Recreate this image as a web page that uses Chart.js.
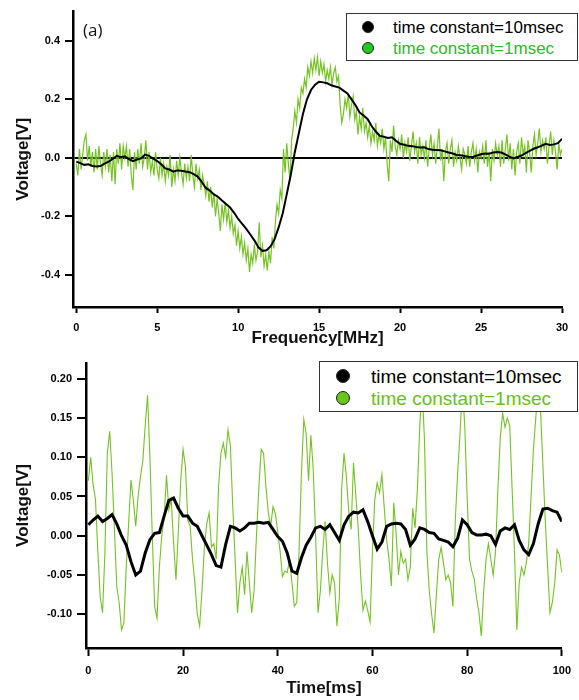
<!DOCTYPE html>
<html>
<head>
<meta charset="utf-8">
<script src="https://cdn.jsdelivr.net/npm/chart.js@4.4.1/dist/chart.umd.min.js"></script>
<style>
  html, body { margin: 0; padding: 0; background: #fff; }
  #wrap { position: relative; width: 579px; height: 700px; overflow: hidden; }
  canvas { position: absolute; left: 0; }
  .legend { position: absolute; background: #fff; border: 1px solid #333; box-sizing: border-box; }
  .legend .dot { position: absolute; border-radius: 50%; border: 1px solid #222; box-sizing: border-box; }
  .legend .lbl { position: absolute; white-space: nowrap; font-family: 'Liberation Sans', Arial, sans-serif; transform: translateY(-50%); line-height: 1; }
  #tagA { position: absolute; left: 83px; top: 18px; font: 17px 'Open Sans', sans-serif; color: #111; }
</style>
</head>
<body>
<div id="wrap">
  <canvas id="topChart" width="579" height="350" style="top:0"></canvas>
  <canvas id="botChart" width="579" height="350" style="top:350px"></canvas>
  <div id="tagA">(a)</div>
  <div id="legTop" class="legend" style="left:346px;top:13px;width:232px;height:48px"></div>
  <div id="legBot" class="legend" style="left:319px;top:361px;width:259px;height:51px"></div>
</div>
<script>
/* global Chart */

const seriesNames = ['time constant=10msec', 'time constant=1msec'];

// ---- top panel: voltage vs frequency (MHz) ----
const topXTicks = [0, 5, 10, 15, 20, 25, 30];
const topYTicks = [-0.4, -0.2, 0, 0.2, 0.4];

// 10 msec, sampled every 0.25 MHz from 0 to 30
const topBlackStep = 0.25;
const topBlack = [
  -0.013, -0.018, -0.024, -0.022, -0.028, -0.030, -0.028, -0.020,
  -0.013, -0.004, 0.007, 0.002, 0.005, -0.004, -0.011, -0.006,
  -0.002, 0.011, 0.007, -0.003, -0.011, -0.022, -0.036, -0.040,
  -0.047, -0.043, -0.044, -0.047, -0.049, -0.056, -0.064, -0.082,
  -0.103, -0.112, -0.125, -0.133, -0.146, -0.158, -0.170, -0.188,
  -0.209, -0.226, -0.243, -0.262, -0.282, -0.306, -0.318, -0.316,
  -0.303, -0.278, -0.238, -0.190, -0.125, -0.058, 0.020, 0.085,
  0.150, 0.200, 0.232, 0.250, 0.260, 0.258, 0.255, 0.248,
  0.244, 0.240, 0.230, 0.220, 0.200, 0.180, 0.155, 0.145,
  0.132, 0.108, 0.090, 0.075, 0.072, 0.068, 0.070, 0.058,
  0.048, 0.045, 0.041, 0.040, 0.037, 0.035, 0.036, 0.030,
  0.028, 0.027, 0.026, 0.022, 0.018, 0.015, 0.010, 0.009,
  0.006, 0.004, 0.003, 0.008, 0.012, 0.015, 0.014, 0.018,
  0.020, 0.018, 0.012, 0.004, -0.002, 0.003, 0.008, 0.016,
  0.024, 0.031, 0.036, 0.042, 0.048, 0.044, 0.046, 0.050,
  0.065
];

// 1 msec, sampled every 0.1 MHz from 0 to 30
const topGreenStep = 0.1;
const topGreen = [
  -0.02, -0.06, 0.03, -0.04, 0.01, 0.06, 0.08, -0.01, 0.04, -0.03,
  0.02, -0.05, 0.03, -0.04, 0.04, -0.02, -0.06, 0.02, -0.03, 0.03,
  -0.05, 0.01, -0.08, 0.02, -0.09, 0.03, -0.02, 0.05, -0.04, 0.04,
  0.00, 0.04, -0.03, 0.03, -0.06, -0.11, 0.02, -0.04, 0.03, -0.02,
  0.05, -0.03, 0.00, 0.06, -0.04, 0.02, -0.05, -0.01, -0.06, 0.02,
  -0.04, -0.07, 0.00, -0.06, -0.02, -0.08, -0.03, -0.06, 0.01, -0.10,
  -0.04, -0.08, -0.01, -0.06, 0.00, -0.05, -0.09, -0.02, -0.07, -0.03,
  -0.08, 0.01, -0.06, -0.10, -0.02, -0.07, -0.04, -0.11, -0.06, -0.09,
  -0.13, -0.08, -0.15, -0.10, -0.17, -0.12, -0.20, -0.14, -0.19, -0.25,
  -0.16, -0.21, -0.15, -0.22, -0.18, -0.24, -0.20, -0.26, -0.23, -0.30,
  -0.25, -0.31, -0.27, -0.33, -0.29, -0.35, -0.31, -0.39, -0.33, -0.36,
  -0.30, -0.35, -0.32, -0.22, -0.34, -0.30, -0.37, -0.33, -0.385, -0.32,
  -0.36, -0.27, -0.31, -0.22, -0.16, -0.19, -0.11, -0.14, 0.03, -0.05,
  0.05, -0.02, -0.08, 0.06, 0.10, 0.16, 0.12, 0.20, 0.17, 0.24,
  0.22, 0.27, 0.24, 0.31, 0.28, 0.33, 0.29, 0.34, 0.30, 0.345,
  0.28, 0.33, 0.29, 0.32, 0.26, 0.30, 0.27, 0.31, 0.25, 0.29,
  0.31, 0.26, 0.28, 0.18, 0.12, 0.15, 0.20, 0.17, 0.22, 0.14,
  0.18, 0.21, 0.13, 0.16, 0.08, 0.14, 0.10, 0.17, 0.09, 0.12,
  0.07, 0.11, 0.05, 0.09, 0.06, 0.12, 0.04, 0.08, 0.05, 0.10,
  0.03, 0.07, -0.02, -0.08, 0.06, 0.02, 0.11, 0.04, 0.01, 0.06,
  0.03, 0.08, 0.00, 0.05, 0.02, 0.07, -0.01, 0.04, 0.09, 0.02,
  0.05, -0.02, 0.07, 0.01, 0.04, 0.00, 0.06, -0.03, 0.03, 0.08,
  0.01, 0.05, -0.02, 0.04, 0.10, -0.01, 0.03, -0.08, 0.02, 0.05,
  -0.02, 0.03, 0.06, -0.03, 0.02, -0.01, 0.04, 0.00, -0.04, 0.03,
  0.01, -0.02, 0.04, -0.03, 0.02, 0.05, -0.01, 0.03, -0.05, 0.02,
  0.00, 0.04, -0.02, 0.06, -0.03, 0.02, -0.08, 0.03, -0.01, 0.05,
  0.01, 0.04, -0.03, 0.06, -0.02, 0.03, 0.08, -0.01, 0.05, -0.04,
  0.03, -0.06, 0.02, 0.05, -0.02, 0.07, 0.01, 0.04, -0.05, 0.06,
  0.02, -0.05, 0.04, 0.08, 0.01, 0.05, 0.10, 0.02, 0.06, 0.03,
  0.07, -0.02, 0.04, 0.09, 0.01, 0.06, 0.02, -0.04, 0.05, 0.01,
  0.03
];

// ---- bottom panel: voltage vs time (ms) ----
const botXTicks = [0, 20, 40, 60, 80, 100];
const botYTicks = [-0.10, -0.05, 0, 0.05, 0.10, 0.15, 0.20];

// 10 msec, every 1 ms from 0 to 100
const botBlackStep = 1;
const botBlack = [
  0.014, 0.020, 0.025, 0.018, 0.022, 0.027, 0.015, 0.000, -0.012, -0.033,
  -0.050, -0.045, -0.022, -0.005, 0.003, 0.004, 0.025, 0.045, 0.048, 0.035,
  0.025, 0.025, 0.016, 0.012, 0.000, -0.012, -0.024, -0.038, -0.040, -0.011,
  0.012, 0.010, 0.006, 0.010, 0.016, 0.016, 0.017, 0.016, 0.017, 0.008,
  -0.001, -0.007, -0.022, -0.045, -0.048, -0.028, -0.012, -0.002, 0.010, 0.012,
  0.008, 0.014, 0.004, -0.006, 0.014, 0.025, 0.030, 0.029, 0.033, 0.018,
  0.000, -0.017, -0.008, 0.012, 0.015, 0.016, 0.015, 0.008, -0.012, -0.004,
  0.010, 0.008, 0.004, 0.003, -0.004, -0.006, -0.008, -0.014, -0.003, 0.020,
  0.014, 0.004, 0.001, 0.001, 0.002, 0.000, -0.011, 0.006, 0.010, 0.008,
  0.014, -0.006, -0.018, -0.024, -0.010, 0.015, 0.034, 0.035, 0.032, 0.030,
  0.018
];

// 1 msec, every 0.5 ms from 0 to 100
const botGreenStep = 0.5;
const botGreen = [
  0.070, 0.100, 0.065, 0.046, -0.020, -0.078, -0.098, -0.020, 0.105, 0.133,
  0.080, 0.010, -0.065, -0.085, -0.120, -0.111, -0.040, 0.015, 0.071, 0.045,
  0.012, 0.050, 0.075, 0.095, 0.140, 0.179, 0.100, 0.000, -0.090, -0.105,
  -0.040, 0.000, 0.022, 0.077, 0.033, 0.046, -0.009, -0.056, 0.005, 0.070,
  0.110, 0.088, 0.020, 0.012, -0.030, -0.060, -0.100, -0.115, -0.070, -0.015,
  0.015, 0.029, -0.014, -0.010, -0.030, 0.063, 0.105, 0.118, 0.100, 0.135,
  0.114, 0.037, -0.030, -0.098, -0.060, -0.040, -0.075, -0.020, -0.060, -0.098,
  -0.070, 0.000, 0.060, 0.110, 0.105, 0.063, 0.030, 0.012, 0.037, 0.028,
  0.005, -0.020, -0.052, -0.045, -0.047, -0.030, -0.060, -0.090, -0.085, -0.020,
  0.080, 0.148, 0.130, 0.070, 0.128, 0.084, 0.000, -0.098, -0.070, -0.020,
  0.018, -0.035, -0.073, -0.050, -0.060, -0.115, -0.080, 0.060, 0.105, 0.075,
  0.030, 0.008, 0.093, 0.050, 0.010, -0.050, -0.095, -0.083, -0.095, -0.110,
  -0.020, 0.046, 0.067, 0.055, 0.078, 0.035, -0.005, -0.030, -0.064, 0.042,
  0.003, -0.050, -0.020, -0.035, -0.030, -0.056, -0.040, 0.035, 0.010, 0.060,
  0.140, 0.190, 0.120, -0.020, -0.070, -0.100, -0.124, -0.075, -0.030, -0.015,
  -0.035, -0.056, -0.050, -0.060, -0.090, 0.020, 0.080, 0.130, 0.190, 0.140,
  0.050, -0.030, -0.045, -0.055, -0.080, -0.098, -0.128, -0.070, -0.030, -0.010,
  -0.030, -0.050, -0.020, 0.060, 0.125, 0.156, 0.138, 0.150, 0.140, 0.060,
  -0.020, -0.120, -0.060, -0.040, -0.050, -0.035, -0.010, 0.050, 0.110, 0.150,
  0.190, 0.160, 0.090, 0.020, -0.040, -0.098, -0.085, -0.060, -0.018, -0.025,
  -0.047
];

const BLACK = '#000000';
const GREEN = '#74c322';
const FONT = "'Liberation Sans', Arial, sans-serif";

function pts(values, step) {
  return values.map((v, i) => ({ x: i * step, y: v }));
}

function fixedTicks(list) {
  return scale => { scale.ticks = list.map(v => ({ value: v })); };
}

function makeChart(id, cfg) {
  return new Chart(document.getElementById(id).getContext('2d'), {
    type: 'line',
    data: {
      datasets: [
        { data: pts(cfg.black, cfg.blackStep), borderColor: BLACK, borderWidth: cfg.blackWidth,
          pointRadius: 0, tension: 0, fill: false },
        { data: pts(cfg.green, cfg.greenStep), borderColor: GREEN, borderWidth: cfg.greenWidth,
          pointRadius: 0, tension: 0, fill: false },
      ],
    },
    options: {
      responsive: false,
      animation: false,
      devicePixelRatio: 1,
      layout: { padding: { top: cfg.padTop, right: 17, left: 0, bottom: 0 } },
      plugins: { legend: { display: false }, tooltip: { enabled: false } },
      scales: {
        x: {
          type: 'linear',
          min: cfg.xMin, max: cfg.xMax,
          afterBuildTicks: fixedTicks(cfg.xTicks),
          afterFit: s => { s.height = cfg.xHeight; },
          grid: { display: true, drawOnChartArea: false, tickColor: BLACK, tickLength: cfg.xTickLen, tickWidth: 2 },
          border: { display: true, color: BLACK, width: 2.5 },
          ticks: { color: '#000', padding: 8, maxRotation: 0, font: { family: FONT, size: 11, weight: 'bold' },
                   callback: v => String(v) },
          title: { display: true, text: cfg.xTitle, color: '#111', padding: { top: 0, bottom: 1 },
                   font: { family: FONT, size: 17, weight: 'bold' } },
        },
        y: {
          min: cfg.yMin, max: cfg.yMax,
          z: 1,
          afterBuildTicks: fixedTicks(cfg.yTicks),
          afterFit: s => { s.width = cfg.yWidth; },
          grid: {
            display: true,
            drawOnChartArea: cfg.zeroLine,
            color: c => (cfg.zeroLine && c.tick && c.tick.value === 0) ? BLACK : 'rgba(0,0,0,0)',
            lineWidth: 2,
            tickColor: BLACK, tickLength: cfg.yTickLen, tickWidth: 2,
          },
          border: { display: true, color: BLACK, width: 2.5 },
          ticks: { color: '#000', padding: 5, font: { family: FONT, size: 11, weight: 'bold' },
                   callback: v => v.toFixed(cfg.yDigits) },
          title: { display: true, text: 'Voltage[V]', color: '#111', padding: { top: 13, bottom: 0 },
                   font: { family: FONT, size: 17, weight: 'bold' } },
        },
      },
    },
  });
}

makeChart('topChart', {
  black: topBlack, blackStep: topBlackStep, blackWidth: 2,
  green: topGreen, greenStep: topGreenStep, greenWidth: 1.2,
  xMin: -0.2, xMax: 30, xTicks: topXTicks, xTitle: 'Frequency[MHz]', xHeight: 43, xTickLen: 6,
  yMin: -0.51, yMax: 0.5, yTicks: topYTicks, yWidth: 73, yTickLen: 8, yDigits: 1,
  padTop: 8, zeroLine: true,
});

makeChart('botChart', {
  black: botBlack, blackStep: botBlackStep, blackWidth: 3,
  green: botGreen, greenStep: botGreenStep, greenWidth: 1.1,
  xMin: -0.5, xMax: 100, xTicks: botXTicks, xTitle: 'Time[ms]', xHeight: 52, xTickLen: 8,
  yMin: -0.143, yMax: 0.22, yTicks: botYTicks, yWidth: 86, yTickLen: 9, yDigits: 2,
  padTop: 13, zeroLine: false,
});

// legends drawn as plain HTML boxes over the plots
function buildLegend(id, opts) {
  const box = document.getElementById(id);
  seriesNames.forEach((name, i) => {
    const cy = opts.rows[i];
    const dot = document.createElement('span');
    dot.className = 'dot';
    dot.style.width = dot.style.height = (opts.r * 2) + 'px';
    dot.style.left = (opts.dotX - opts.r) + 'px';
    dot.style.top = (cy - opts.r) + 'px';
    dot.style.background = opts.dotColors[i];
    box.appendChild(dot);

    const lbl = document.createElement('span');
    lbl.className = 'lbl';
    lbl.textContent = name;
    lbl.style.left = opts.textX + 'px';
    lbl.style.top = cy + 'px';
    lbl.style.fontSize = opts.size + 'px';
    lbl.style.color = opts.textColors[i];
    box.appendChild(lbl);
  });
}

buildLegend('legTop', { rows: [13, 34], dotX: 21, r: 6, textX: 46, size: 17,
  dotColors: ['#000', '#22c822'], textColors: ['#000', '#2fb82a'] });
buildLegend('legBot', { rows: [14, 36], dotX: 23, r: 7, textX: 51, size: 19,
  dotColors: ['#000', '#66c61c'], textColors: ['#000', '#66c21a'] });
</script>
</body>
</html>
